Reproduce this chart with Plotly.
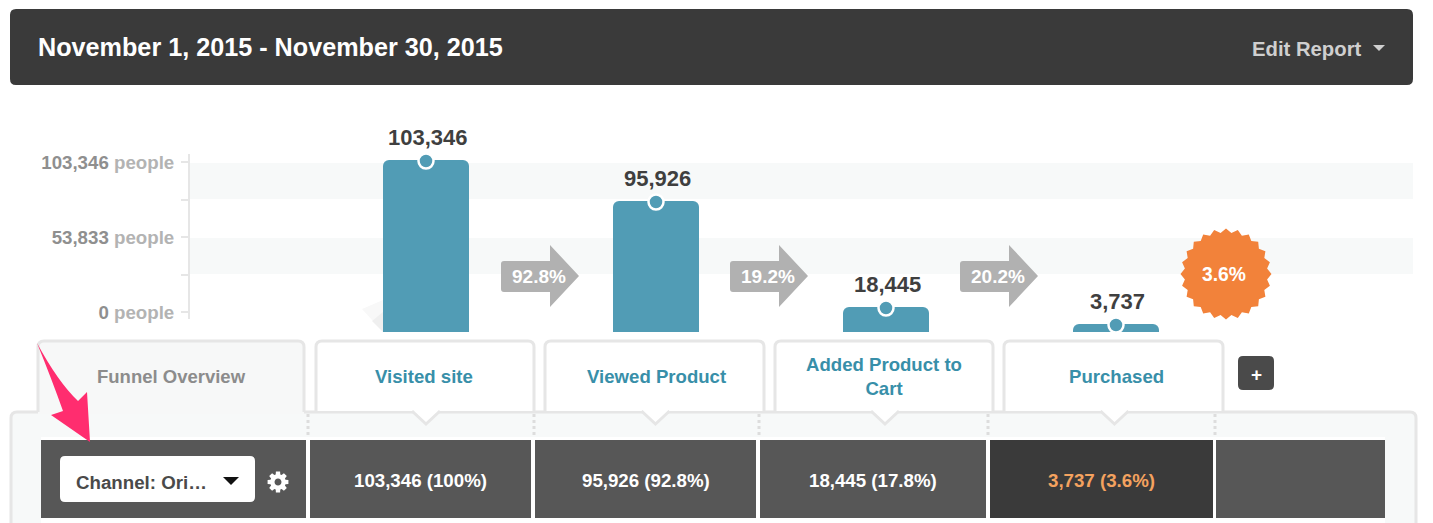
import math
import plotly.graph_objects as go

# values as printed on the chart
steps = ['Visited site', 'Viewed Product', 'Added Product to<br>Cart', 'Purchased']
step_x = [426, 656, 886, 1116]
step_label_x = [424, 656.5, 884, 1116.5]
step_people = ['103,346', '95,926', '18,445', '3,737']
# drawn heights of the bars (the picture is not to scale with its axis)
bar_heights = [172, 131, 25, 8]
rates = ['92.8%', '19.2%', '20.2%']
rate_x = [501, 730, 960]
overall_rate = '3.6%'
axis_labels = ['0', '53,833', '103,346']
cells = ['103,346 (100%)', '95,926 (92.8%)', '18,445 (17.8%)', '3,737 (3.6%)']
cell_left = [310, 535, 760, 990, 1216]
cell_right = [531, 756, 986, 1213, 1385]

W, H = 1433, 523
BAR = '#519cb5'
LINE = '#e6e6e6'
FONT = 'Liberation Sans'


def rrect(x0, y0, x1, y1, r=5, open_bottom=False):
    """rounded rectangle path, in pixels"""
    p = f'M{x0},{y1} L{x0},{y0+r} Q{x0},{y0} {x0+r},{y0} L{x1-r},{y0} Q{x1},{y0} {x1},{y0+r} L{x1},{y1}'
    if open_bottom:
        return p
    return p + f' L{x1},{y1-r} Q{x1},{y1} {x1-r},{y1} L{x0+r},{y1} Q{x0},{y1} {x0},{y1-r} Z'


def path(d, fill=None, line=None, lw=0, dash=None):
    ln = dict(color=line or 'rgba(0,0,0,0)', width=lw)
    if dash:
        ln['dash'] = dash
    return dict(type='path', xref='x', yref='y', path=d, fillcolor=fill or 'rgba(0,0,0,0)',
                line=ln, layer='below')


def label(x, y, text, size=17, color='#ffffff', bold=True, anchor='center'):
    t = f'<b>{text}</b>' if bold else text
    return dict(x=x, y=y, xref='x', yref='y', text=t, showarrow=False, xanchor=anchor, yanchor='middle',
                align='center', font=dict(family=FONT, size=size, color=color))


shapes = []
notes = []

# header
shapes.append(path(rrect(10, 9, 1413, 85, 6), '#3a3a3a'))
notes.append(label(36, 47, 'November 1, 2015 - November 30, 2015', 25.2, anchor='left'))
notes.append(label(1250, 49, 'Edit Report', 20.3, '#cfcfcf', anchor='left'))
shapes.append(path('M1373,45 L1385,45 L1379,51 Z', '#cfcfcf'))

# chart bands and the shadow next to the first bar
for top in [163, 238]:
    shapes.append(path(f'M190,{top} L1413,{top} L1413,{top+36} L190,{top+36} Z', '#f7f9f9'))
shapes.append(path('M383,300 L383,332 L362,309 Z', '#f8f8f8'))
shapes.append(path('M383,312 L383,332 L372,321 Z', '#efefef'))

# grey step arrows
for x, r in zip(rate_x, rates):
    shapes.append(path(f'M{x+3},261 L{x+49},261 L{x+49},245 L{x+78},276 L{x+49},307 L{x+49},292 '
                       f'L{x+3},292 Q{x},292 {x},289 L{x},264 Q{x},261 {x+3},261 Z', '#b1b1b1'))
    notes.append(label(x + 38, 276, r, 19))

# orange badge
pts = []
for i in range(48):
    rad = 45.5 if i % 2 == 0 else 41.5
    a = math.pi * i / 24
    pts.append(f'{1226 + rad*math.cos(a):.1f},{274 + rad*math.sin(a):.1f}')
shapes.append(path('M' + ' L'.join(pts) + ' Z', '#f2823a'))
notes.append(label(1224, 274, overall_rate, 19.3))

# lower panel
shapes.append(path(rrect(11, 412, 1416, 560, 6), '#f7f9f9', LINE, 3))
shapes.append(path(rrect(38, 341, 304, 414, 6, True) + ' Z', '#f7f8f8', None))
shapes.append(path(rrect(38, 341, 304, 412, 6, True), None, LINE, 3))
notes.append(label(171, 376, 'Funnel Overview', 18.5, '#8c8c8c'))
tab_edges = [(316, 534), (545, 764), (775, 993), (1004, 1223)]
for (x0, x1), s, lx in zip(tab_edges, steps, step_label_x):
    shapes.append(path(rrect(x0, 341, x1, 411, 6, True) + ' Z', '#ffffff'))
    shapes.append(path(rrect(x0, 341, x1, 411, 6, True), None, LINE, 3))
    mid = (x0 + x1) / 2
    # pointer under the tab
    shapes.append(path(f'M{mid-13},411 L{mid+1},424 L{mid+15},411 Z', '#ffffff'))
    shapes.append(path(f'M{mid-13},411 L{mid+1},424 L{mid+15},411', None, LINE, 3))
    notes.append(label(lx, 376, s, 18.6, '#388fa9'))
for x in [308, 534, 759, 988, 1215]:
    shapes.append(path(f'M{x},414 L{x},437', None, '#dddddd', 3, 'dot'))

# plus button
shapes.append(path(rrect(1238, 356, 1274, 390, 5), '#4a4a4a'))
notes.append(label(1256, 374, '+', 19))

# table row
shapes.append(path('M41,437 L1385,437 L1385,523 L41,523 Z', '#ffffff'))
shapes.append(path('M41,440 L306,440 L306,518 L41,518 Z', '#575757'))
for i, (x0, x1) in enumerate(zip(cell_left, cell_right)):
    col = '#3a3a3a' if i == 3 else '#575757'
    shapes.append(path(f'M{x0},440 L{x1},440 L{x1},518 L{x0},518 Z', col))
    if i < len(cells):
        notes.append(label((x0 + x1) / 2, 480, cells[i], 18.7, '#f4a25f' if i == 3 else '#ffffff'))

# dropdown and gear
shapes.append(path(rrect(60, 456, 255, 502, 5), '#ffffff'))
notes.append(label(74, 482, 'Channel: Ori…', 18.7, '#4a4a4a', anchor='left'))
shapes.append(path('M223,477 L239,477 L231,485 Z', '#111111'))
gear = []
for i in range(8):
    a = math.pi * i / 4
    for da, rad in [(-0.3, 7.8), (-0.2, 10.6), (0.2, 10.6), (0.3, 7.8)]:
        gear.append(f'{278 + rad*math.cos(a+da):.1f},{482 + rad*math.sin(a+da):.1f}')
shapes.append(path('M' + ' L'.join(gear) + ' Z', '#ffffff'))
hole = [f'{278 + 3.5*math.cos(math.pi*i/8):.1f},{482 + 3.5*math.sin(math.pi*i/8):.1f}' for i in range(16)]
shapes.append(path('M' + ' L'.join(hole) + ' Z', '#575757'))

# pink arrow
shapes.append(path('M37,343 Q58,382 78,401 L87,392 L90,442 L51,415 L63,411 Q52,380 37,343 Z', '#ff2d6f'))

# bars sit on their own axis whose zero is the cut-off line at pixel 332
fig = go.Figure()
fig.add_trace(go.Bar(x=step_x, y=bar_heights, width=86, yaxis='y2', marker=dict(color=BAR, line=dict(width=0)),
                     hoverinfo='skip'))
fig.add_trace(go.Scatter(x=step_x, y=[h - 1 for h in bar_heights], yaxis='y2', mode='markers',
                         marker=dict(size=15, color=BAR, line=dict(color='#ffffff', width=2.5)), hoverinfo='skip'))
for x, h, txt in zip(step_x, bar_heights, step_people):
    notes.append(dict(x=x, y=h, xref='x', yref='y2', xshift=1.5, yshift=23, text=f'<b>{txt}</b>', showarrow=False,
                      font=dict(family=FONT, size=22, color='#3f3f3f')))

# left axis, only used for its ticks and line
fig.add_trace(go.Scatter(x=[0], y=[0], xaxis='x3', yaxis='y3', mode='markers', marker=dict(opacity=0), hoverinfo='skip'))
tick_text = []
for a in axis_labels:
    tick_text.append(f'<b><span style="color:#8f8f8f">{a}</span> <span style="color:#b3b3b3">people</span></b>')
    tick_text.append('')

fig.update_layout(
    template='none',
    width=W, height=H, margin=dict(l=0, r=0, t=0, b=0), showlegend=False,
    paper_bgcolor='#ffffff', plot_bgcolor='rgba(0,0,0,0)', barcornerradius=6,
    shapes=shapes, annotations=notes,
    xaxis=dict(range=[0, W], visible=False, fixedrange=True, automargin=False),
    yaxis=dict(range=[H, 0], visible=False, fixedrange=True, automargin=False),
    yaxis2=dict(range=[332 - H, 332], overlaying='y', visible=False, fixedrange=True, automargin=False),
    xaxis3=dict(domain=[190 / W, 1], anchor='y3', visible=False, fixedrange=True, automargin=False),
    yaxis3=dict(domain=[(H - 319) / H, (H - 154) / H], range=[-7 / 75, 2 + 8 / 75], anchor='x3',
                side='left', tickmode='array', tickvals=[0, 0.5, 1, 1.5, 2],
                ticktext=tick_text[:5], ticks='outside', ticklen=7, tickcolor=LINE, tickwidth=2,
                ticklabelstandoff=3, automargin=False,
                showline=True, linecolor=LINE, linewidth=2, showgrid=False, zeroline=False,
                tickfont=dict(family=FONT, size=18.7), fixedrange=True),
)

fig.write_html('out.html', config=dict(displayModeBar=False),
               post_script="document.body.style.margin='0';")
